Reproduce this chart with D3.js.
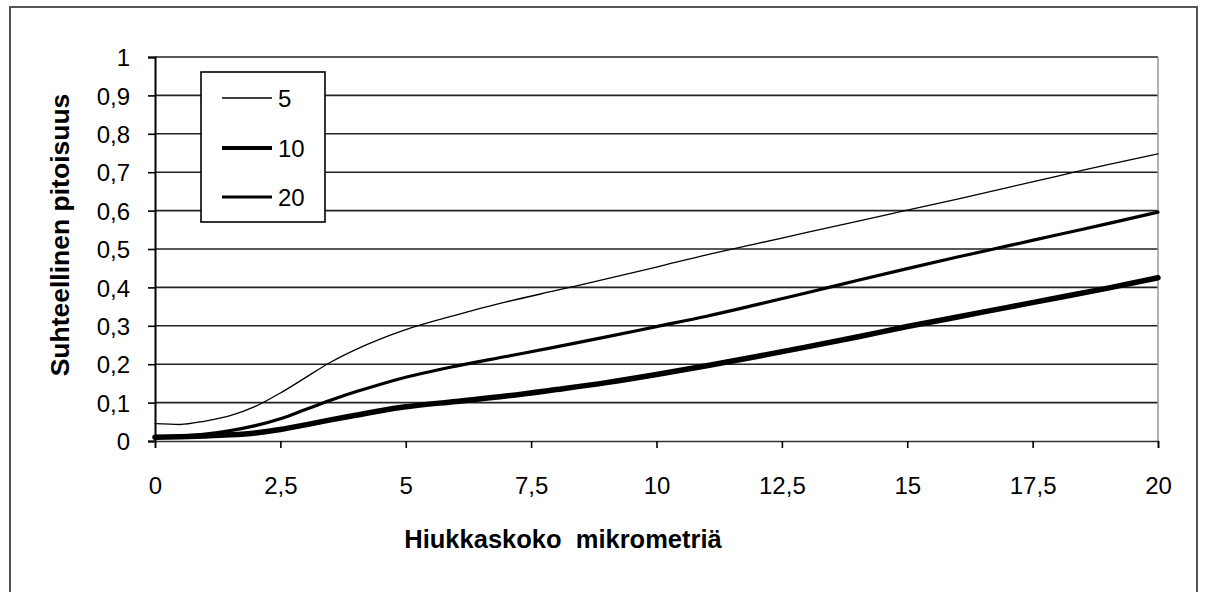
<!DOCTYPE html>
<html>
<head>
<meta charset="utf-8">
<script src="https://cdn.jsdelivr.net/npm/d3@7"></script>
<style>
  html, body { margin: 0; padding: 0; background: #fff; }
  svg { display: block; }
  text { font-family: "Liberation Sans", Arial, sans-serif; fill: #000; }
</style>
</head>
<body>
<script>
// ---- data ----
const xValues = [0, 0.5, 1, 1.5, 2, 2.5, 3, 3.5, 4, 4.5, 5, 6, 7, 8, 9, 10, 11, 12, 13, 14, 15, 16, 17, 18, 19, 20];
const series5  = [0.045, 0.043, 0.052, 0.066, 0.09, 0.125, 0.165, 0.205, 0.238, 0.266, 0.29, 0.328, 0.362, 0.392, 0.422, 0.453, 0.485, 0.514, 0.543, 0.572, 0.601, 0.63, 0.66, 0.69, 0.72, 0.748];
const series10 = [0.01, 0.011, 0.013, 0.016, 0.021, 0.03, 0.042, 0.055, 0.067, 0.079, 0.089, 0.103, 0.117, 0.134, 0.152, 0.173, 0.196, 0.22, 0.245, 0.271, 0.298, 0.323, 0.348, 0.373, 0.398, 0.425];
const series20 = [0.01, 0.013, 0.018, 0.027, 0.04, 0.058, 0.082, 0.106, 0.128, 0.148, 0.166, 0.195, 0.22, 0.245, 0.271, 0.298, 0.325, 0.355, 0.386, 0.418, 0.449, 0.479, 0.508, 0.537, 0.566, 0.596];
const seriesNames = ["5", "10", "20"];
const xTickValues = [0, 2.5, 5, 7.5, 10, 12.5, 15, 17.5, 20];
const xTickLabels = ["0", "2,5", "5", "7,5", "10", "12,5", "15", "17,5", "20"];
const yTickValues = [0, 0.1, 0.2, 0.3, 0.4, 0.5, 0.6, 0.7, 0.8, 0.9, 1];
const yTickLabels = ["0", "0,1", "0,2", "0,3", "0,4", "0,5", "0,6", "0,7", "0,8", "0,9", "1"];
const xTitle = "Hiukkaskoko\u00A0 mikrometriä";
const yTitle = "Suhteellinen pitoisuus";

// ---- layout ----
const W = 1205, H = 592;
const plot = { left: 155, right: 1158, top: 57, bottom: 441 };

const svg = d3.select("body").append("svg").attr("width", W).attr("height", H);

// outer frame (bottom edge lies outside the picture)
svg.append("rect").attr("x", 10).attr("y", 7).attr("width", 1187).attr("height", 600)
  .attr("fill", "#fff").attr("stroke", "#555").attr("stroke-width", 2);

const x = d3.scaleLinear().domain([0, 20]).range([plot.left, plot.right]);
const y = d3.scaleLinear().domain([0, 1]).range([plot.bottom, plot.top]);

// gridlines
svg.append("g").selectAll("line").data(yTickValues.filter(v => v > 0)).join("line")
  .attr("x1", plot.left).attr("x2", plot.right)
  .attr("y1", d => y(d)).attr("y2", d => y(d))
  .attr("stroke", "#222").attr("stroke-width", 1.6);

// right plot edge
svg.append("line").attr("x1", plot.right).attr("x2", plot.right)
  .attr("y1", plot.top).attr("y2", plot.bottom)
  .attr("stroke", "#999").attr("stroke-width", 1.5);

// axes
const yAxis = d3.axisLeft(y).tickValues(yTickValues)
  .tickFormat((d, i) => yTickLabels[i]).tickSize(7).tickPadding(18);
const gy = svg.append("g").attr("transform", `translate(${plot.left},0)`).call(yAxis);
gy.select(".domain").attr("stroke", "#000").attr("stroke-width", 2);
gy.selectAll(".tick line").attr("stroke", "#000").attr("stroke-width", 1.6);
gy.selectAll(".tick text").attr("font-size", 24).attr("font-family", "Liberation Sans, Arial, sans-serif")
  .attr("dy", "0.36em");

const xAxis = d3.axisBottom(x).tickValues(xTickValues)
  .tickFormat((d, i) => xTickLabels[i]).tickSize(7).tickPadding(29);
const gx = svg.append("g").attr("transform", `translate(0,${plot.bottom})`).call(xAxis);
gx.select(".domain").attr("stroke", "#333").attr("stroke-width", 1.6);
gx.selectAll(".tick line").attr("stroke", "#000").attr("stroke-width", 1.6);
gx.selectAll(".tick text").attr("font-size", 24).attr("font-family", "Liberation Sans, Arial, sans-serif");

// series
const allSeries = [
  { name: seriesNames[0], values: series5, width: 1.3 },
  { name: seriesNames[1], values: series10, width: 5.5 },
  { name: seriesNames[2], values: series20, width: 3.2 }
];
const line = d3.line().x((d, i) => x(xValues[i])).y(d => y(d)).curve(d3.curveMonotoneX);
svg.append("g").selectAll("path").data(allSeries).join("path")
  .attr("d", d => line(d.values))
  .attr("fill", "none").attr("stroke", "#000")
  .attr("stroke-width", d => d.width)
  .attr("stroke-linejoin", "round").attr("stroke-linecap", "round");

// legend
const lg = svg.append("g");
lg.append("rect").attr("x", 201).attr("y", 72).attr("width", 124).attr("height", 150)
  .attr("fill", "#fff").attr("stroke", "#000").attr("stroke-width", 1.6);
const legendWidths = [1.3, 4, 3.2];
const legendY = [98, 148, 197];
allSeries.forEach((s, i) => {
  lg.append("line").attr("x1", 222).attr("x2", 272)
    .attr("y1", legendY[i]).attr("y2", legendY[i])
    .attr("stroke", "#000").attr("stroke-width", legendWidths[i]);
  lg.append("text").attr("x", 278).attr("y", legendY[i]).attr("dy", "0.36em")
    .attr("font-size", 24).text(s.name);
});

// axis titles
svg.append("text").attr("x", 563).attr("y", 548).attr("text-anchor", "middle")
  .attr("font-size", 25.5).attr("font-weight", "bold").text(xTitle);
svg.append("text").attr("transform", "translate(69,235) rotate(-90)")
  .attr("text-anchor", "middle").attr("font-size", 26.5).attr("font-weight", "bold").text(yTitle);
</script>
</body>
</html>
